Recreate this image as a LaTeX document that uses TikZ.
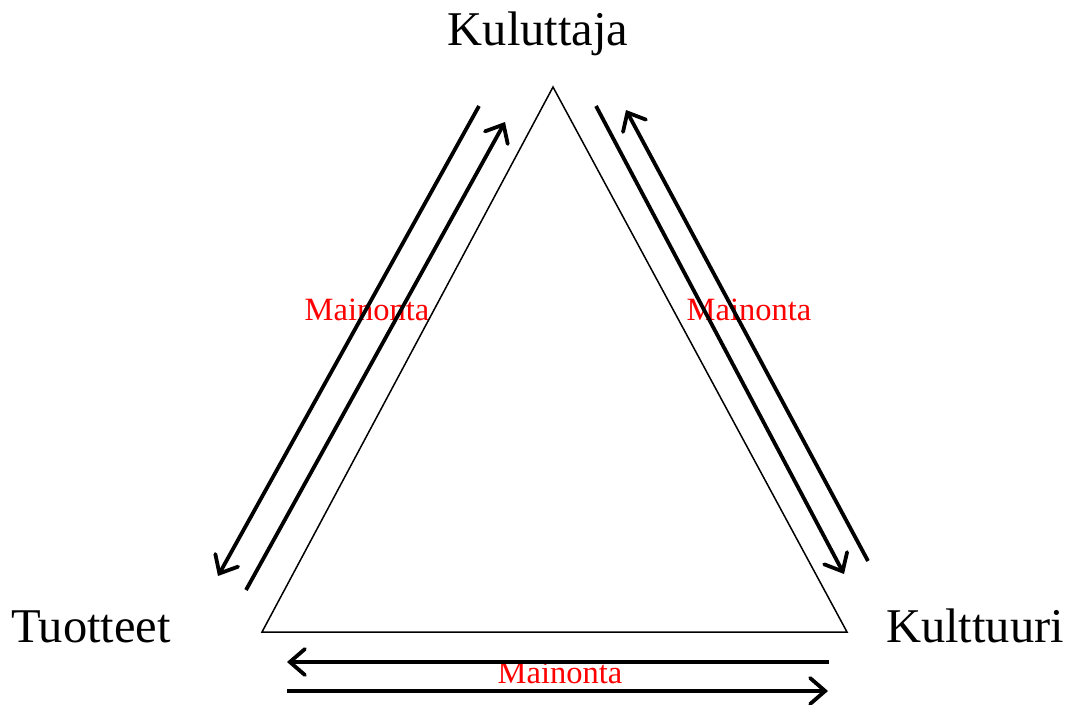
\documentclass[tikz,border=0pt]{standalone}
\usepackage{fontspec}
\setmainfont{Liberation Serif}
\usetikzlibrary{arrows.meta}
\tikzset{
  bigarrow/.style={line width=3.8pt, -{Straight Barb[length=15pt,width=26pt,line cap=round]}},
  tri/.style={line width=1.5pt},
  corner/.style={font=\fontsize{48.5}{52}\selectfont, anchor=base, inner sep=0pt},
  adlabel/.style={font=\fontsize{32.5}{36}\selectfont, text=red, anchor=base, inner sep=0pt}
}
\begin{document}
\begin{tikzpicture}[x=1pt,y=-1pt]
\useasboundingbox (0,0) rectangle (1070,704);
% labels
\node[corner] (kul) at (538,45) {Kuluttaja};
\node[corner] (tuo) at (91,642) {Tuotteet};
\node[corner] (ktu) at (975,642) {Kulttuuri};
\node[adlabel] (m1) at (367,320) {Mainonta};
\node[adlabel] (m2) at (749,320) {Mainonta};
\node[adlabel] (m3) at (560,683) {Mainonta};
% triangle
\coordinate (A) at (553,87);
\coordinate (B) at (262,632);
\coordinate (C) at (847,632);
\draw[tri] (A) -- (B) -- (C) -- cycle;
% left arrows
\coordinate (l1s) at (479,106); \coordinate (l1e) at (218,576);
\coordinate (l2s) at (246,590); \coordinate (l2e) at (505,122);
\draw[bigarrow] (l1s) -- (l1e);
\draw[bigarrow] (l2s) -- (l2e);
% right arrows
\coordinate (r1s) at (596,106); \coordinate (r1e) at (844,574);
\coordinate (r2s) at (868,561); \coordinate (r2e) at (626,110);
\draw[bigarrow] (r1s) -- (r1e);
\draw[bigarrow] (r2s) -- (r2e);
% bottom arrows
\coordinate (b1s) at (829,662); \coordinate (b1e) at (287,662);
\coordinate (b2s) at (287,691); \coordinate (b2e) at (828,691);
\draw[bigarrow] (b1s) -- (b1e);
\draw[bigarrow] (b2s) -- (b2e);
\end{tikzpicture}
\end{document}
